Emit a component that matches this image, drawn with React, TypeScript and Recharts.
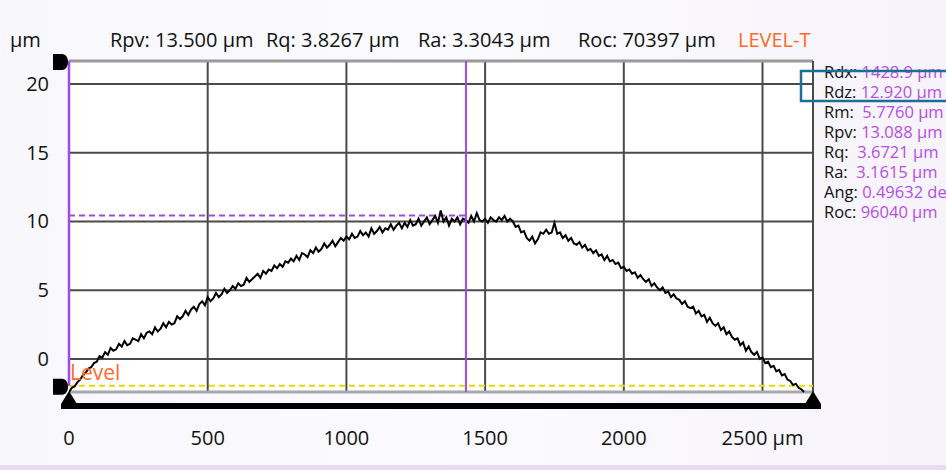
import React from 'react';
import { ComposedChart, Line, XAxis, YAxis, ReferenceLine, ReferenceDot, ReferenceArea } from 'recharts';

// ---- data ----
const xPositions = [
  0, 10, 20, 30, 40, 50, 60, 70, 80, 90, 100, 110, 120, 130, 140, 150, 160, 170, 180, 190,
  200, 210, 220, 230, 240, 250, 260, 270, 280, 290, 300, 310, 320, 330, 340, 350, 360, 370, 380, 390,
  400, 410, 420, 430, 440, 450, 460, 470, 480, 490, 500, 510, 520, 530, 540, 550, 560, 570, 580, 590,
  600, 610, 620, 630, 640, 650, 660, 670, 680, 690, 700, 710, 720, 730, 740, 750, 760, 770, 780, 790,
  800, 810, 820, 830, 840, 850, 860, 870, 880, 890, 900, 910, 920, 930, 940, 950, 960, 970, 980, 990,
  1000, 1010, 1020, 1030, 1040, 1050, 1060, 1070, 1080, 1090, 1100, 1110, 1120, 1130, 1140, 1150, 1160, 1170, 1180, 1190,
  1200, 1210, 1220, 1230, 1240, 1250, 1260, 1270, 1280, 1290, 1300, 1310, 1320, 1330, 1340, 1350, 1360, 1370, 1380, 1390,
  1400, 1410, 1420, 1430, 1440, 1450, 1460, 1470, 1480, 1490, 1500, 1510, 1520, 1530, 1540, 1550, 1560, 1570, 1580, 1590,
  1600, 1610, 1620, 1630, 1640, 1650, 1660, 1670, 1680, 1690, 1700, 1710, 1720, 1730, 1740, 1750, 1760, 1770, 1780, 1790,
  1800, 1810, 1820, 1830, 1840, 1850, 1860, 1870, 1880, 1890, 1900, 1910, 1920, 1930, 1940, 1950, 1960, 1970, 1980, 1990,
  2000, 2010, 2020, 2030, 2040, 2050, 2060, 2070, 2080, 2090, 2100, 2110, 2120, 2130, 2140, 2150, 2160, 2170, 2180, 2190,
  2200, 2210, 2220, 2230, 2240, 2250, 2260, 2270, 2280, 2290, 2300, 2310, 2320, 2330, 2340, 2350, 2360, 2370, 2380, 2390,
  2400, 2410, 2420, 2430, 2440, 2450, 2460, 2470, 2480, 2490, 2500, 2510, 2520, 2530, 2540, 2550, 2560, 2570, 2580, 2590,
  2600, 2610, 2620, 2630, 2640, 2650,
];
const profile = [
  -2.4, -2.1, -2.0, -1.7, -1.5, -1.2, -1.0, -0.7, -0.6, -0.3, -0.2, 0.2, 0.1, 0.5, 0.3, 0.8, 0.6, 0.7, 1.1, 0.9,
  1.3, 1.0, 1.1, 1.5, 1.4, 1.3, 1.8, 1.5, 1.9, 2.0, 1.8, 2.3, 2.0, 2.2, 2.6, 2.3, 2.7, 2.5, 2.6, 3.1,
  2.9, 3.1, 3.5, 3.2, 3.6, 3.8, 3.5, 4.0, 4.2, 3.9, 4.5, 4.2, 4.4, 4.8, 4.5, 4.7, 5.1, 4.8, 5.0, 5.3,
  5.1, 5.5, 5.3, 5.4, 5.9, 5.6, 5.8, 6.0, 6.2, 5.9, 6.4, 6.2, 6.5, 6.4, 6.8, 6.6, 6.9, 6.7, 7.1, 7.0,
  7.3, 7.1, 7.5, 7.2, 7.7, 7.6, 7.4, 7.9, 7.7, 8.1, 7.8, 8.0, 8.4, 8.1, 8.3, 8.6, 8.2, 8.5, 8.8, 8.6,
  8.9, 8.7, 9.1, 8.8, 8.9, 9.3, 9.0, 9.2, 8.9, 9.5, 9.1, 9.3, 9.6, 9.2, 9.5, 9.4, 9.8, 9.4, 9.7, 9.9,
  9.5, 9.9, 9.6, 10.1, 9.7, 9.8, 10.2, 9.7, 10.0, 10.3, 9.8, 10.1, 10.4, 9.9, 10.8, 10.0, 10.3, 9.7, 10.2, 10.0,
  10.3, 9.8, 10.2, 10.1, 9.9, 10.4, 10.0, 10.6, 10.1, 10.0, 10.2, 9.9, 10.3, 10.1, 10.0, 10.3, 10.1, 10.4, 10.0, 10.2,
  10.0, 9.6, 9.7, 9.2, 9.3, 8.8, 8.6, 8.9, 8.4, 8.7, 9.2, 9.1, 9.4, 9.1, 9.2, 9.9, 9.1, 9.2, 8.8, 9.0,
  8.6, 8.8, 8.4, 8.3, 8.5, 8.1, 8.3, 7.9, 8.0, 7.7, 7.9, 7.5, 7.6, 7.2, 7.5, 7.1, 7.2, 6.9, 7.0, 6.6,
  6.7, 6.4, 6.5, 6.2, 6.3, 5.9, 6.1, 5.8, 5.6, 5.8, 5.3, 5.5, 5.2, 5.0, 5.2, 4.8, 4.9, 4.5, 4.7, 4.4,
  4.3, 4.0, 4.2, 3.8, 3.7, 3.8, 3.3, 3.5, 3.1, 3.2, 2.7, 3.0, 2.6, 2.4, 2.6, 2.1, 2.3, 1.8, 2.0, 1.6,
  1.4, 1.5, 1.0, 1.2, 0.6, 0.9, 0.5, 0.3, 0.5, 0.0, 0.1, -0.3, -0.2, -0.6, -0.5, -0.9, -0.8, -1.2, -1.1, -1.5,
  -1.6, -1.9, -1.8, -2.1, -2.2, -2.4,
];
const xTickValues = [0, 500, 1000, 1500, 2000, 2500];
const xTickLabels = ['0', '500', '1000', '1500', '2000', '2500 µm'];
const yTickValues = [0, 5, 10, 15, 20];

const xMax = 2682;
const yMin = -3.64;
const yMax = 21.67;
const frameBottom = -2.4;
const levelValue = -1.94;
const cursorX = 1431;
const cursorZ = 10.44;
const barValue = -3.42;

const headerItems = [
  { label: 'Rpv:', value: '13.500 µm' },
  { label: 'Rq:', value: '3.8267 µm' },
  { label: 'Ra:', value: '3.3043 µm' },
  { label: 'Roc:', value: '70397 µm' },
];
const panelLabels = ['Rdx:', 'Rdz:', 'Rm:', 'Rpv:', 'Rq:', 'Ra:', 'Ang:', 'Roc:'];
const panelValues = ['1428.9 µm', '12.920 µm', ' 5.7760 µm', '13.088 µm', ' 3.6721 µm', ' 3.1615 µm', '0.49632 deg', '96040 µm'];

const data = xPositions.map((x, i) => ({ x, z: profile[i] }));

const FONT = "'Open Sans', 'Noto Sans', sans-serif";
const PURPLE = '#a548e8';
const PURPLE_TEXT = '#b54ee3';
const ORANGE = '#ff6a26';

const XTick = (props: any) => {
  const { x, y, payload } = props;
  const idx = xTickValues.indexOf(payload.value);
  return (
    <text x={x} y={y} dy={28} textAnchor="middle" fontFamily={FONT} fontSize={20} fill="#111">
      {xTickLabels[idx] ?? String(payload.value)}
    </text>
  );
};

const YTick = (props: any) => {
  const { x, y, payload } = props;
  return (
    <text x={x - 12} y={y} dy={7} textAnchor="end" fontFamily={FONT} fontSize={20} fill="#111">
      {payload.value}
    </text>
  );
};

const DMarker = (props: any) => {
  const { cx, cy } = props;
  return (
    <path
      d={`M ${cx - 16} ${cy - 7} L ${cx - 7} ${cy - 7} C ${cx + 1} ${cy - 7} ${cx + 1} ${cy + 9} ${cx - 7} ${cy + 9} L ${cx - 16} ${cy + 9} Z`}
      fill="#000"
    />
  );
};

const TriMarker = (props: any) => {
  const { cx, cy } = props;
  return (
    <path d={`M ${cx} ${cy - 15} L ${cx + 8} ${cy - 2} L ${cx + 8} ${cy + 3} L ${cx - 8} ${cy + 3} L ${cx - 8} ${cy - 2} Z`} fill="#000" />
  );
};

export default function App() {
  return (
    <div
      style={{
        position: 'absolute',
        left: 0,
        top: 0,
        width: 946,
        height: 470,
        overflow: 'hidden',
        background: 'linear-gradient(90deg, #f8f8fc 0%, #fbfafe 50%, #f6f4fa 100%)',
      }}
    >
      <ComposedChart width={946} height={470} data={data} margin={{ top: 61, right: 133, bottom: 31, left: 0 }}>
        <XAxis
          dataKey="x"
          type="number"
          domain={[0, xMax]}
          ticks={xTickValues}
          interval={0}
          axisLine={false}
          tickLine={false}
          tick={<XTick />}
          height={30}
          allowDataOverflow
        />
        <YAxis
          type="number"
          domain={[yMin, yMax]}
          ticks={yTickValues}
          interval={0}
          axisLine={false}
          tickLine={false}
          tick={<YTick />}
          width={69}
          allowDataOverflow
        />
        <ReferenceArea x1={0} x2={xMax} y1={frameBottom} y2={yMax} fill="#ffffff" fillOpacity={1} stroke="none" />
        {xTickValues.slice(1).map((t) => (
          <ReferenceLine key={'vx' + t} segment={[{ x: t, y: frameBottom }, { x: t, y: yMax }]} stroke="#4a4a4a" strokeWidth={2} />
        ))}
        {yTickValues.map((t) => (
          <ReferenceLine key={'hy' + t} segment={[{ x: 0, y: t }, { x: xMax, y: t }]} stroke="#4a4a4a" strokeWidth={2} />
        ))}
        <ReferenceLine segment={[{ x: 0, y: yMax }, { x: xMax, y: yMax }]} stroke="#9a9a9a" strokeWidth={3} />
        <ReferenceLine segment={[{ x: 0, y: frameBottom }, { x: xMax, y: frameBottom }]} stroke="#a8a8a8" strokeWidth={3} />
        <ReferenceLine segment={[{ x: xMax, y: frameBottom }, { x: xMax, y: yMax }]} stroke="#4a4a4a" strokeWidth={2} />
        <ReferenceLine segment={[{ x: 0, y: levelValue }, { x: xMax, y: levelValue }]} stroke="#e2dc00" strokeWidth={2} strokeDasharray="6 4" />
        <ReferenceLine segment={[{ x: 0, y: cursorZ }, { x: cursorX, y: cursorZ }]} stroke={PURPLE} strokeWidth={2} strokeDasharray="6 4" />
        <Line dataKey="z" type="linear" stroke="#000" strokeWidth={2} dot={false} isAnimationActive={false} />
        <ReferenceLine segment={[{ x: cursorX, y: frameBottom }, { x: cursorX, y: yMax }]} stroke={PURPLE} strokeWidth={2} />
        <ReferenceLine segment={[{ x: 0, y: levelValue }, { x: 0, y: yMax }]} stroke={PURPLE} strokeWidth={2.5} />
        <ReferenceLine segment={[{ x: 0, y: barValue }, { x: xMax, y: barValue }]} stroke="#000" strokeWidth={6} />
        <ReferenceDot x={0} y={yMax} r={1} shape={<DMarker />} />
        <ReferenceDot x={0} y={levelValue} r={1} shape={<DMarker />} />
        <ReferenceDot x={0} y={barValue} r={1} shape={<TriMarker />} />
        <ReferenceDot x={xMax} y={barValue} r={1} shape={<TriMarker />} />
      </ComposedChart>
      <svg width={946} height={470} style={{ position: 'absolute', left: 0, top: 0, pointerEvents: 'none' }}>
        <text x={10} y={47} fontFamily={FONT} fontSize={20} fill="#111">µm</text>
        {headerItems.map((h, i) => (
          <text key={i} x={[110, 266, 418, 578][i]} y={47} fontFamily={FONT} fontSize={20} fill="#111">
            {h.label + ' ' + h.value}
          </text>
        ))}
        <text x={738} y={47} fontFamily={FONT} fontSize={20} fill={ORANGE}>LEVEL-T</text>
        <text x={70} y={380} fontFamily={FONT} fontSize={21} fill={ORANGE}>Level</text>
        {panelLabels.map((l, i) => (
          <text key={i} x={824} y={78 + i * 20} fontFamily={FONT} fontSize={16.5} xmlSpace="preserve">
            <tspan fill="#111">{l}</tspan>
            <tspan fill={PURPLE_TEXT}>{' ' + panelValues[i]}</tspan>
          </text>
        ))}
        <rect x={801} y={71} width={160} height={30} fill="none" stroke="#1f6c96" strokeWidth={2.5} />
        <rect x={0} y={465} width={946} height={5} fill="#e6dbf2" />
      </svg>
    </div>
  );
}
